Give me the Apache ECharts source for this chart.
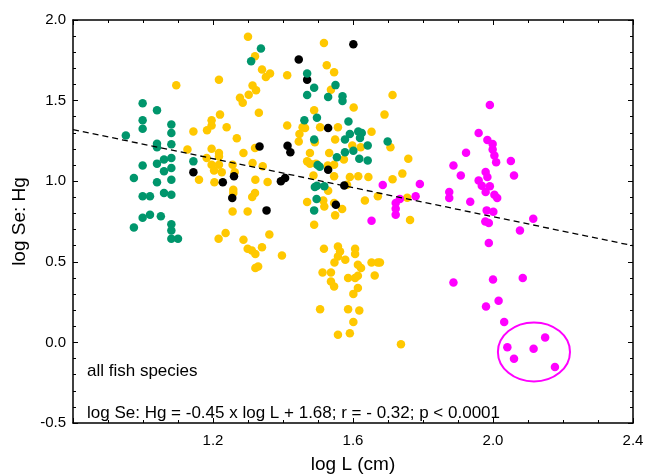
<!DOCTYPE html>
<html><head><meta charset="utf-8">
<script src="https://cdn.jsdelivr.net/npm/echarts/dist/echarts.min.js"></script>
<style>html,body{margin:0;padding:0;background:#fff}#c{width:647px;height:474px}</style>
</head><body><div id="c"></div>
<script>
// [log L, log Se:Hg]
const greenPts = [[0.951,1.283],[0.999,1.483],[0.999,1.378],[0.999,1.326],[1.040,1.440],[1.040,1.233],[1.040,1.210],[1.081,1.351],[1.081,1.299],[1.081,1.229],[1.060,1.134],[1.081,1.144],[1.060,1.061],[1.081,1.082],[1.040,1.109],[0.999,1.098],[0.974,1.020],[1.040,0.993],[1.081,1.009],[0.999,0.906],[1.020,0.906],[1.060,0.927],[1.081,0.916],[0.999,0.773],[1.020,0.792],[1.051,0.783],[0.974,0.713],[1.081,0.733],[1.081,0.694],[1.081,0.643],[1.100,0.643],[1.144,1.123],[1.309,1.744],[1.337,1.823],[1.469,1.668],[1.489,1.579],[1.469,1.535],[1.550,1.596],[1.529,1.523],[1.570,1.527],[1.570,1.497],[1.461,1.378],[1.497,1.394],[1.587,1.370],[1.489,1.258],[1.577,1.258],[1.591,1.293],[1.615,1.309],[1.625,1.299],[1.620,1.268],[1.642,1.222],[1.699,1.247],[1.554,1.148],[1.577,1.180],[1.601,1.189],[1.618,1.140],[1.642,1.129],[1.499,1.101],[1.505,1.090],[1.497,0.972],[1.518,0.968],[1.491,0.964],[1.496,0.889],[1.489,0.819]];
const yellowPts = [[1.095,1.595],[1.144,1.309],[1.127,1.196],[1.160,1.009],[1.196,1.378],[1.196,1.345],[1.183,1.316],[1.217,1.630],[1.220,1.413],[1.239,1.334],[1.196,1.202],[1.182,1.144],[1.196,1.102],[1.203,1.067],[1.217,1.175],[1.217,1.154],[1.217,1.102],[1.204,0.993],[1.225,1.055],[1.256,1.102],[1.262,1.055],[1.268,1.266],[1.287,1.175],[1.258,0.947],[1.258,0.927],[1.256,0.812],[1.299,0.812],[1.216,0.643],[1.236,0.678],[1.287,0.637],[1.300,1.896],[1.320,1.775],[1.277,1.517],[1.285,1.486],[1.302,1.537],[1.313,1.593],[1.323,1.564],[1.331,1.424],[1.320,1.206],[1.313,1.113],[1.321,1.009],[1.320,0.927],[1.312,0.902],[1.299,0.581],[1.311,0.570],[1.321,0.548],[1.340,0.591],[1.361,0.670],[1.397,0.539],[1.321,0.461],[1.329,0.471],[1.340,1.693],[1.363,1.668],[1.351,1.647],[1.412,1.657],[1.517,1.858],[1.525,1.719],[1.546,1.676],[1.537,1.568],[1.489,1.440],[1.602,1.457],[1.690,1.413],[1.713,1.535],[1.412,1.345],[1.456,1.334],[1.463,1.330],[1.506,1.334],[1.557,1.334],[1.653,1.307],[1.447,1.293],[1.445,1.247],[1.491,1.241],[1.549,1.258],[1.598,1.222],[1.622,1.210],[1.707,1.210],[1.477,1.175],[1.532,1.175],[1.574,1.134],[1.469,1.123],[1.477,1.109],[1.494,1.109],[1.528,1.098],[1.546,1.102],[1.487,1.036],[1.546,1.030],[1.591,1.026],[1.615,1.030],[1.644,1.026],[1.583,0.978],[1.529,0.941],[1.342,1.092],[1.356,0.995],[1.671,0.906],[1.634,0.881],[1.469,0.871],[1.515,0.881],[1.518,0.843],[1.546,0.865],[1.569,0.827],[1.549,0.788],[1.489,0.730],[1.758,1.140],[1.741,1.047],[1.713,1.012],[1.755,0.898],[1.763,0.759],[1.677,0.496],[1.517,0.581],[1.557,0.595],[1.563,0.564],[1.557,0.533],[1.547,0.496],[1.578,0.512],[1.606,0.581],[1.606,0.548],[1.614,0.481],[1.623,0.461],[1.653,0.496],[1.671,0.496],[1.662,0.415],[1.513,0.434],[1.537,0.434],[1.537,0.378],[1.546,0.347],[1.586,0.399],[1.606,0.399],[1.614,0.413],[1.614,0.337],[1.601,0.301],[1.506,0.206],[1.586,0.206],[1.618,0.198],[1.601,0.127],[1.557,0.048],[1.591,0.057],[1.737,-0.012]];
const blackPts = [[1.144,1.055],[1.228,0.993],[1.260,1.030],[1.255,0.896],[1.333,1.216],[1.445,1.755],[1.601,1.850],[1.469,1.630],[1.529,1.330],[1.413,1.220],[1.421,1.179],[1.406,1.020],[1.394,0.999],[1.529,1.071],[1.575,0.974],[1.353,0.819],[1.551,0.854]];
const magentaPts = [[1.991,1.473],[1.959,1.299],[1.984,1.256],[1.999,1.231],[1.999,1.196],[2.004,1.160],[2.009,1.117],[1.923,1.177],[1.887,1.098],[1.908,1.036],[2.051,1.125],[2.060,1.036],[1.979,1.057],[1.984,1.026],[1.959,1.005],[1.968,0.972],[1.991,0.968],[1.979,0.933],[2.004,0.916],[2.012,0.896],[1.875,0.933],[1.875,0.896],[1.935,0.873],[1.982,0.819],[2.001,0.811],[1.978,0.750],[1.988,0.740],[2.115,0.767],[2.077,0.694],[1.988,0.616],[1.887,0.371],[2.000,0.390],[2.085,0.399],[1.980,0.222],[2.016,0.258],[2.032,0.127],[2.041,-0.030],[2.060,-0.101],[2.116,-0.039],[2.149,0.030],[2.177,-0.152],[1.685,0.976],[1.791,0.983],[1.779,0.906],[1.734,0.889],[1.722,0.865],[1.722,0.829],[1.722,0.792],[1.653,0.755]];
const xRange = [0.8, 2.4];
const xTickStep = [0.4];
const yRange = [-0.5, 2.0];
const yTickStep = [0.5];
const regression = [-0.45, 1.68]; // slope, intercept
const ellipseCenter = [2.117, -0.059];
const ellipseRadii = [0.103, 0.183];
const labels = ['all fish species', 'log Se: Hg = -0.45 x log L + 1.68; r = - 0.32; p < 0.0001'];

const FONT = 'Liberation Sans, Arial, sans-serif';
const chart = echarts.init(document.getElementById('c'), null, {renderer: 'canvas'});
const regLine = xRange.map(x => [x, regression[0] * x + regression[1]]);

function axisCommon(showLabel) {
  return {
    axisLine: {show: true, onZero: false, lineStyle: {color: '#000', width: 1.5}},
    axisTick: {show: true, inside: true, length: 5, lineStyle: {color: '#000', width: 1}},
    minorTick: {show: true, length: 3, lineStyle: {color: '#000', width: 1}},
    splitLine: {show: false},
    minorSplitLine: {show: false},
    axisLabel: {show: showLabel, color: '#000', fontSize: 15, fontFamily: FONT}
  };
}
const sym = 8.5;
const option = {
  animation: false,
  backgroundColor: '#fff',
  grid: {left: 73, right: 14, top: 20, bottom: 51, containLabel: false, outerBoundsMode: 'none'},
  xAxis: [
    Object.assign(axisCommon(true), {
      type: 'value', min: xRange[0], max: xRange[1], interval: xTickStep[0], position: 'bottom',
      minorTick: {show: true, splitNumber: 4, length: 3, lineStyle: {color: '#000', width: 1}},
      name: 'log L (cm)', nameLocation: 'middle', nameGap: 32,
      nameTextStyle: {color: '#000', fontSize: 19, fontFamily: FONT},
      axisLabel: {show: true, color: '#000', fontSize: 15, fontFamily: FONT, margin: 10,
        formatter: v => (v < xRange[0] + 0.01 ? '' : v.toFixed(1))}
    }),
    Object.assign(axisCommon(false), {
      type: 'value', min: xRange[0], max: xRange[1], interval: xTickStep[0], position: 'top',
      minorTick: {show: true, splitNumber: 4, length: 3, lineStyle: {color: '#000', width: 1}}
    })
  ],
  yAxis: [
    Object.assign(axisCommon(true), {
      type: 'value', min: yRange[0], max: yRange[1], interval: yTickStep[0], position: 'left',
      minorTick: {show: true, splitNumber: 5, length: 3, lineStyle: {color: '#000', width: 1}},
      name: 'log Se: Hg', nameLocation: 'middle', nameGap: 44,
      nameTextStyle: {color: '#000', fontSize: 19, fontFamily: FONT},
      axisLabel: {show: true, color: '#000', fontSize: 15, fontFamily: FONT, margin: 7,
        formatter: v => v.toFixed(1)}
    }),
    Object.assign(axisCommon(false), {
      type: 'value', min: yRange[0], max: yRange[1], interval: yTickStep[0], position: 'right',
      minorTick: {show: true, splitNumber: 5, length: 3, lineStyle: {color: '#000', width: 1}}
    })
  ],
  series: [
    {type: 'scatter', data: yellowPts, symbolSize: sym, itemStyle: {color: '#FFC800', opacity: 1}, z: 2},
    {type: 'scatter', data: blackPts, symbolSize: sym, itemStyle: {color: '#000', opacity: 1}, z: 3},
    {type: 'scatter', data: greenPts, symbolSize: sym, itemStyle: {color: '#00966C', opacity: 1}, z: 4},
    {type: 'scatter', data: magentaPts, symbolSize: sym, itemStyle: {color: '#FF00FF', opacity: 1}, z: 5},
    {type: 'line', data: regLine, symbol: 'none', silent: true, z: 6,
      lineStyle: {color: '#000', width: 1.3, type: [6, 4]}}
  ]
};
chart.setOption(option);

const c = chart.convertToPixel({xAxisIndex: 0, yAxisIndex: 0}, ellipseCenter);
const e = chart.convertToPixel({xAxisIndex: 0, yAxisIndex: 0},
  [ellipseCenter[0] + ellipseRadii[0], ellipseCenter[1] + ellipseRadii[1]]);
const x0 = chart.convertToPixel({xAxisIndex: 0}, xRange[0]);
const yA = chart.convertToPixel({yAxisIndex: 0}, -0.182);
const yB = chart.convertToPixel({yAxisIndex: 0}, -0.443);
chart.setOption({
  graphic: [
    {type: 'ellipse', shape: {cx: c[0], cy: c[1], rx: Math.abs(e[0] - c[0]), ry: Math.abs(c[1] - e[1])},
      style: {fill: 'none', stroke: '#FF00FF', lineWidth: 2}, z: 10},
    {type: 'text', x: x0 + 14, y: yA, style: {text: labels[0], fill: '#000', font: '17px ' + FONT, verticalAlign: 'middle'}, z: 10},
    {type: 'text', x: x0 + 14, y: yB, style: {text: labels[1], fill: '#000', font: '17px ' + FONT, verticalAlign: 'middle'}, z: 10}
  ]
});
</script>
</body></html>
